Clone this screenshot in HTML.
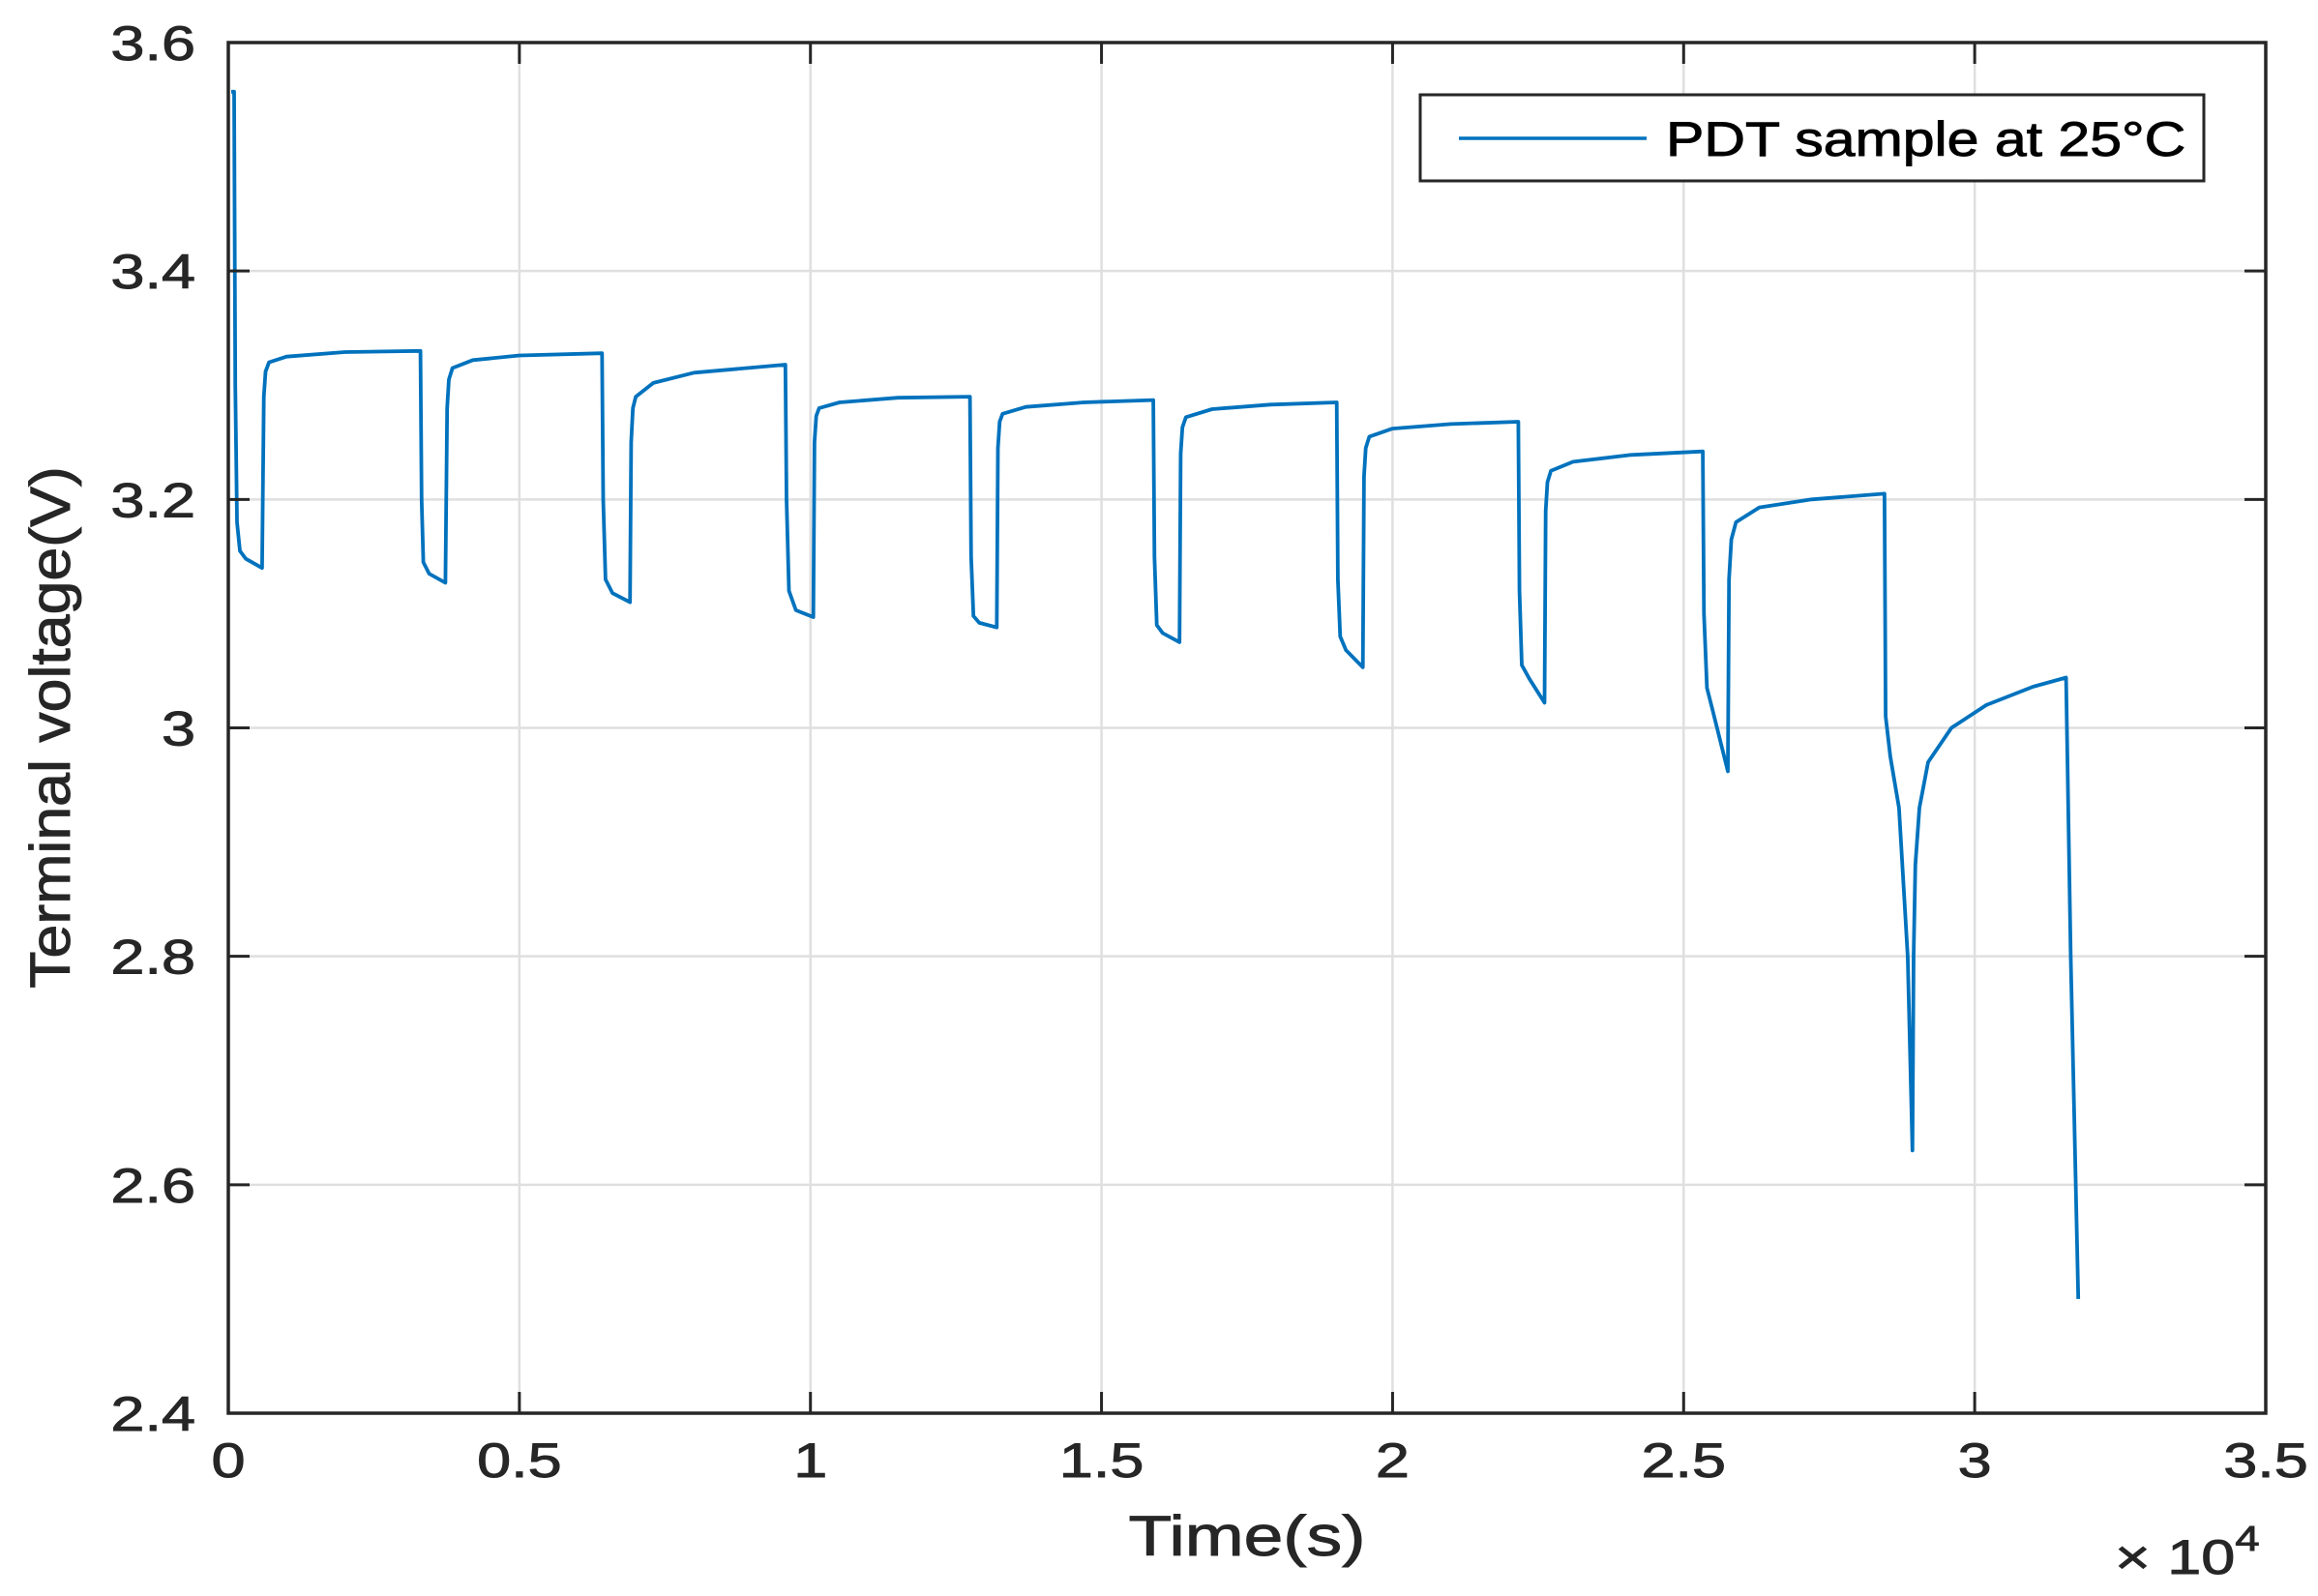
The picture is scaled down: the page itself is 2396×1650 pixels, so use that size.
<!DOCTYPE html>
<html><head><meta charset="utf-8"><style>
html,body{margin:0;padding:0;background:#fff;}
svg{display:block;font-family:"Liberation Sans",Arial,sans-serif;}
text{stroke:#262626;stroke-width:0.9px;}
</style></head><body>
<svg id="chart" width="2396" height="1650" viewBox="0 0 2396 1650" xmlns="http://www.w3.org/2000/svg">
<g id="grid"></g>
<g id="series"></g>
<g id="axes"></g>
<text transform="translate(1289,1608) scale(1.26,1)" font-size="58" text-anchor="middle" fill="#262626">Time(s)</text>
<text transform="translate(72,752) rotate(-90) scale(1.08,1)" font-size="58" text-anchor="middle" fill="#262626">Terminal voltage(V)</text>
<text transform="translate(2186,1627) scale(1.26,1)" font-size="50" fill="#262626">× 10<tspan font-size="36" dy="-24">4</tspan></text>
<g>
<rect x="1468" y="98" width="810" height="89" fill="#fff" stroke="#262626" stroke-width="3"/>
<line x1="1508" y1="143" x2="1702" y2="143" stroke="#0072bd" stroke-width="3.5"/>
<text transform="translate(1722,161) scale(1.18,1)" font-size="50" fill="#000" style="stroke:#000">PDT sample at 25°C</text>
</g>
</svg>
<script>
const times = [0.005,0.01,0.012,0.015,0.02,0.03,0.058,0.061,0.064,0.07,0.1,0.2,0.33,0.332,0.335,0.345,0.373,0.376,0.379,0.385,0.42,0.5,0.642,0.644,0.648,0.66,0.69,0.692,0.695,0.70,0.73,0.8,0.957,0.959,0.963,0.975,1.005,1.007,1.010,1.015,1.05,1.15,1.274,1.276,1.28,1.29,1.32,1.322,1.325,1.33,1.37,1.47,1.589,1.591,1.595,1.605,1.634,1.636,1.639,1.645,1.69,1.79,1.904,1.906,1.91,1.92,1.949,1.951,1.954,1.96,2.0,2.1,2.216,2.218,2.222,2.235,2.261,2.263,2.266,2.272,2.31,2.41,2.533,2.535,2.54,2.55,2.576,2.578,2.582,2.59,2.63,2.72,2.845,2.847,2.855,2.87,2.885,2.893,2.895,2.898,2.905,2.92,2.96,3.02,3.1,3.157,3.165,3.178];
const voltages = [3.557,3.557,3.30,3.18,3.155,3.148,3.14,3.29,3.312,3.32,3.325,3.329,3.33,3.2,3.145,3.135,3.127,3.28,3.305,3.315,3.322,3.326,3.328,3.2,3.13,3.118,3.11,3.25,3.28,3.29,3.302,3.311,3.318,3.2,3.12,3.103,3.097,3.25,3.273,3.28,3.285,3.289,3.29,3.15,3.098,3.092,3.088,3.245,3.268,3.275,3.281,3.285,3.287,3.15,3.09,3.083,3.075,3.24,3.263,3.272,3.279,3.283,3.285,3.13,3.08,3.068,3.053,3.22,3.245,3.255,3.262,3.266,3.268,3.12,3.055,3.043,3.022,3.19,3.215,3.225,3.233,3.239,3.242,3.10,3.035,3.015,2.962,3.13,3.165,3.18,3.193,3.2,3.205,3.01,2.975,2.93,2.80,2.63,2.80,2.88,2.93,2.97,3.0,3.02,3.036,3.044,2.8,2.5];
const xTicks = [0,0.5,1,1.5,2,2.5,3,3.5];
const xTickLabels = ["0","0.5","1","1.5","2","2.5","3","3.5"];
const yTicks = [2.4,2.6,2.8,3.0,3.2,3.4,3.6];
const yTickLabels = ["2.4","2.6","2.8","3","3.2","3.4","3.6"];

const L=236,R=2342,T=44,B=1461;
const xs=v=>L+(v-0)/(3.5-0)*(R-L);
const ys=v=>B-(v-2.4)/(3.6-2.4)*(B-T);
const NS="http://www.w3.org/2000/svg";
function mk(tag,attrs,parent){const e=document.createElementNS(NS,tag);for(const k in attrs)e.setAttribute(k,attrs[k]);parent.appendChild(e);return e;}
const grid=document.getElementById('grid'),axes=document.getElementById('axes'),series=document.getElementById('series');

xTicks.forEach((t,i)=>{
  const x=xs(t);
  if(i>0&&i<xTicks.length-1){
    const g=mk('line',{x1:x,y1:T,x2:x,y2:B,stroke:'#dfdfdf','stroke-width':2.5},grid);
    
    
  }
  const a=mk('line',{x1:x,y1:B,x2:x,y2:B-22,stroke:'#262626','stroke-width':3},axes);
  
  
  const b=mk('line',{x1:x,y1:T,x2:x,y2:T+22,stroke:'#262626','stroke-width':3},axes);
  
  
  const tx=mk('text',{transform:'translate('+x+','+(B+66)+') scale(1.26,1)','font-size':50,'text-anchor':'middle',fill:'#262626'},axes);
  tx.textContent=xTickLabels[i];
  
  
});
yTicks.forEach((t,i)=>{
  const y=ys(t);
  if(i>0&&i<yTicks.length-1){
    const g=mk('line',{x1:L,y1:y,x2:R,y2:y,stroke:'#dfdfdf','stroke-width':2.5},grid);
    
    
  }
  const a=mk('line',{x1:L,y1:y,x2:L+22,y2:y,stroke:'#262626','stroke-width':3},axes);
  
  
  const b=mk('line',{x1:R,y1:y,x2:R-22,y2:y,stroke:'#262626','stroke-width':3},axes);
  
  
  const tx=mk('text',{transform:'translate('+(L-34)+','+(y+18)+') scale(1.26,1)','font-size':50,'text-anchor':'end',fill:'#262626'},axes);
  tx.textContent=yTickLabels[i];
  
  
});
const box=mk('rect',{x:L,y:T,width:R-L,height:B-T,fill:'none',stroke:'#262626','stroke-width':3.5},axes);



const pts=times.map((t,i)=>xs(t).toFixed(1)+','+ys(voltages[i]).toFixed(1)).join(' ');
const line=mk('polyline',{points:pts,fill:'none',stroke:'#0072bd','stroke-width':3.8,'stroke-linejoin':'round'},series);


</script>
</body></html>
